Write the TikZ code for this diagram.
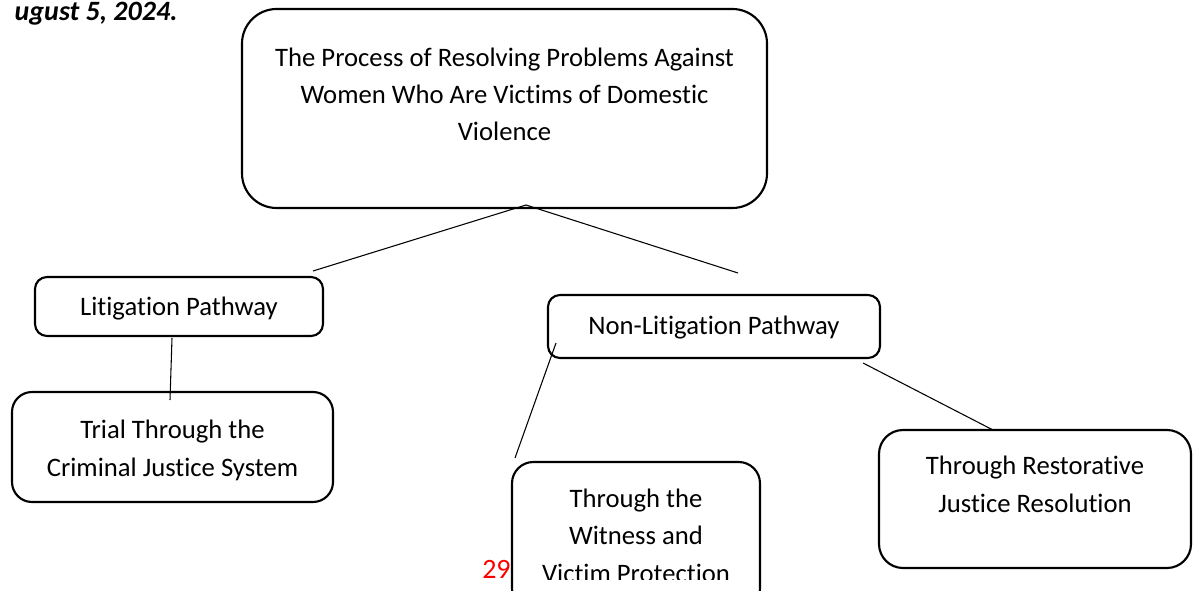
\documentclass[tikz,border=0pt]{standalone}
\usepackage{fontspec}
\setmainfont{Carlito}[Ligatures={NoCommon}]
\usetikzlibrary{calc}
\begin{document}
\begin{tikzpicture}[x=0.75pt,y=-0.75pt,
  box/.style={draw=black, line width=1.6pt, rounded corners=#1, inner sep=0pt},
  box/.default=9pt,
  txt/.style={inner sep=0pt, align=center, font=\fontsize{20}{27.9}\selectfont},
  link/.style={draw=black, line width=0.8pt}]
\useasboundingbox (0,0) rectangle (1199,591);
\clip (0,0) rectangle (1199,591);
% boxes
\node[box=26pt, minimum width=525*0.75pt, minimum height=199*0.75pt] (top) at (504.5,108.5) {};
\node[txt, anchor=base] (toptxt) at (504.5,141) {The Process of Resolving Problems Against\\Women Who Are Victims of Domestic\\Violence};
\node[box=9pt, minimum width=288*0.75pt, minimum height=59*0.75pt] (lit) at (179,306.5) {};
\node[txt, anchor=base] (littxt) at (179,316) {Litigation Pathway};
\node[box=15pt, minimum width=321*0.75pt, minimum height=110*0.75pt] (trial) at (172.5,447) {};
\node[txt, anchor=base] (trialtxt) at (172.5,476) {Trial Through the\\Criminal Justice System};
\node[box=9pt, minimum width=332*0.75pt, minimum height=63*0.75pt] (nonlit) at (714,326.5) {};
\node[txt, anchor=base] (nonlittxt) at (714,335) {Non-Litigation Pathway};
\node[box=16pt, minimum width=248*0.75pt, minimum height=148*0.75pt] (wit) at (636,536) {};
\begin{scope}
\clip (500,450) rectangle (780,579);
\node[txt, anchor=base] (wittxt) at (636,582) {Through the\\Witness and\\Victim Protection};
\end{scope}
\node[box=18pt, minimum width=312*0.75pt, minimum height=138*0.75pt] (rest) at (1035,499) {};
\node[txt, anchor=base] (resttxt) at (1035,512) {Through Restorative\\Justice Resolution};
% other texts
\node[inner sep=0pt, anchor=base east, font=\fontsize{21}{25}\selectfont\bfseries\itshape] (date) at (178,21) {ugust 5, 2024.};
\node[inner sep=0pt, anchor=base west, text=red, font=\fontsize{21}{25}\selectfont] (page) at (482,578) {29};
% connector end points
\coordinate (apex) at (526,205);
\coordinate (litend) at (313,271);
\coordinate (nonlitend) at (738,273);
\coordinate (litbot) at (172,338);
\coordinate (trialtop) at (170,400);
\coordinate (nlA) at (556,343);
\coordinate (witA) at (515,458);
\coordinate (nlB) at (863,363);
\coordinate (restA) at (993,430);
\draw[link] (apex) -- (litend);
\draw[link] (apex) -- (nonlitend);
\draw[link] (litbot) -- (trialtop);
\draw[link] (nlA) -- (witA);
\draw[link] (nlB) -- (restA);
\end{tikzpicture}
\end{document}
